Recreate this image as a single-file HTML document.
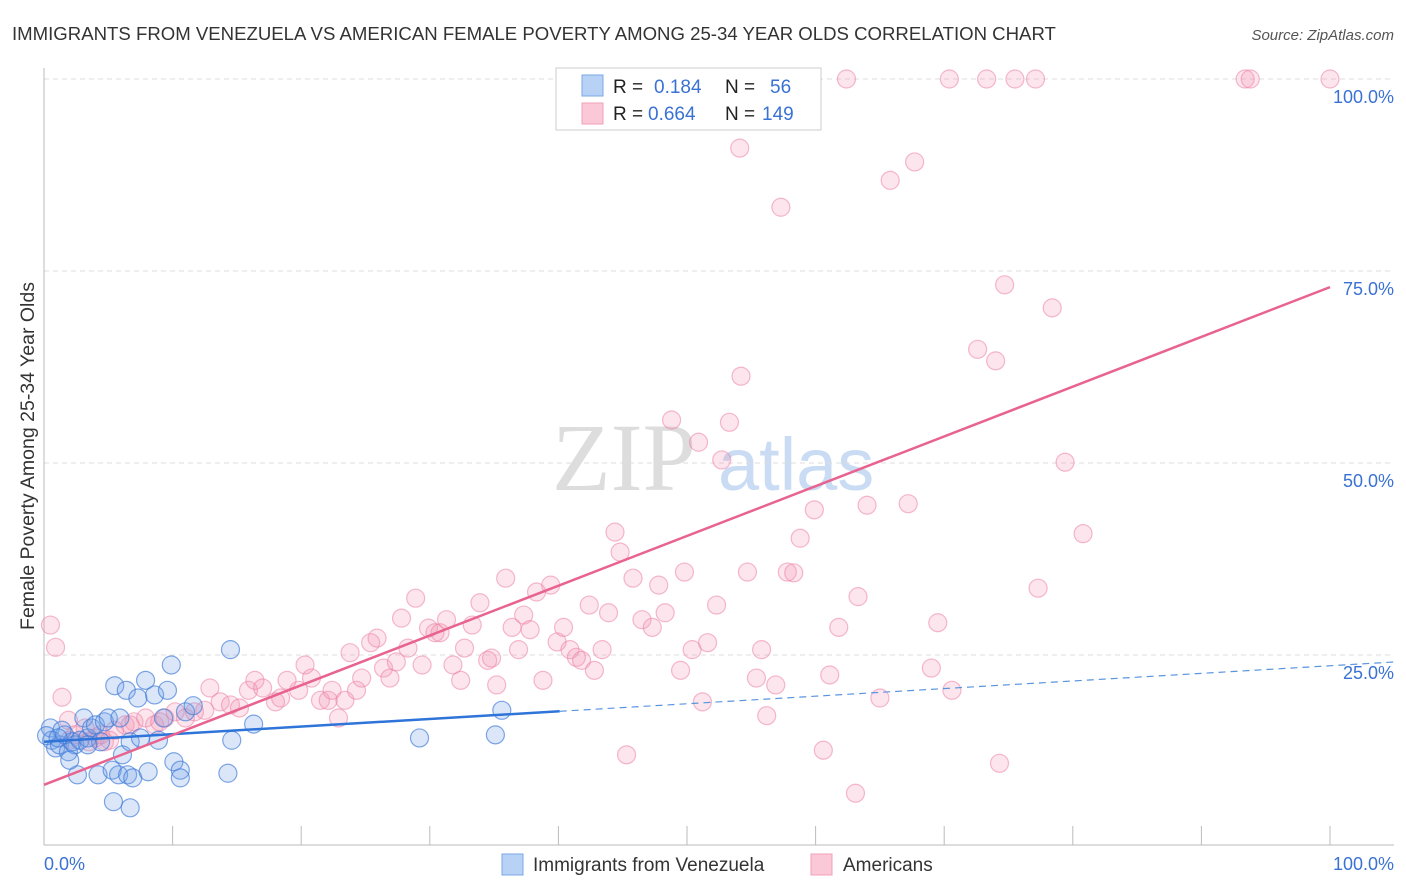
<!DOCTYPE html>
<html><head><meta charset="utf-8"><style>
body{margin:0;background:#fff;font-family:"Liberation Sans",sans-serif;}
#c{position:absolute;left:0;top:0}
</style></head><body>
<svg id="c" width="1406" height="892" xmlns="http://www.w3.org/2000/svg">
<text x="12" y="40" font-size="18.6" fill="#333">IMMIGRANTS FROM VENEZUELA VS AMERICAN FEMALE POVERTY AMONG 25-34 YEAR OLDS CORRELATION CHART</text>
<text x="1394" y="40" font-size="15" fill="#555" font-style="italic" text-anchor="end">Source: ZipAtlas.com</text>
<g>
<text x="552" y="490" font-size="96" fill="#ddd" font-family="Liberation Serif,serif">ZIP</text>
<text x="718" y="490" font-size="74" fill="#c9dcf3">atlas</text>
</g>
<g id="grid"></g>
<g id="axes"></g>
<g id="pts"></g>
<g id="lines"></g>
<g>
<rect x="556" y="68" width="265" height="62" fill="#fff" stroke="#ccc"/>
<rect x="582" y="75" width="21" height="21" fill="#b7d2f5" stroke="#7aa8e6"/>
<rect x="582" y="103" width="21" height="21" fill="#fbc8d7" stroke="#f0a0b8"/>
<text x="613" y="93" font-size="19" fill="#222">R = <tspan fill="#3a72d4" x="654">0.184</tspan><tspan x="725" fill="#222">N =</tspan><tspan x="770" fill="#3a72d4">56</tspan></text>
<text x="613" y="120" font-size="19" fill="#222">R = <tspan fill="#3a72d4" x="648">0.664</tspan><tspan x="725" fill="#222">N =</tspan><tspan x="762" fill="#3a72d4">149</tspan></text>
</g>
<g>
<rect x="502" y="854" width="21" height="21" fill="#b7d2f5" stroke="#7aa8e6"/>
<text x="533" y="871" font-size="19" fill="#333">Immigrants from Venezuela</text>
<rect x="811" y="854" width="21" height="21" fill="#fbc8d7" stroke="#f0a0b8"/>
<text x="843" y="871" font-size="19" fill="#333">Americans</text>
</g>
<text transform="translate(34,456) rotate(-90)" font-size="19.5" fill="#333" text-anchor="middle">Female Poverty Among 25-34 Year Olds</text>
<text x="44" y="870" font-size="18" fill="#3a72d4">0.0%</text>
<text x="1394" y="870" font-size="18" fill="#3a72d4" text-anchor="end">100.0%</text>
</svg>
<script>
const yTicks=[100,75,50,25];
const yTickLabels=["100.0%","75.0%","50.0%","25.0%"];
const blueX=[0.5,0.6,0.9,1.2,1.6,1.4,1.9,2.2,2.4,2.8,3.1,3.4,3.7,4.0,4.2,4.4,2.6,4.7,5.0,5.3,5.5,5.8,5.9,6.1,6.4,6.5,6.7,6.9,7.3,7.5,7.9,8.1,8.6,8.9,9.3,9.6,9.9,10.1,10.6,10.6,11.0,11.6,14.3,14.5,14.6,16.3,29.2,35.1,35.6,5.4,6.7,0.2,1.1,3.4,2.0];
const blueY=[15.5,13.9,12.9,13.3,14.6,15.2,12.4,13.7,13.3,13.9,16.8,14.2,15.5,15.9,9.4,13.7,9.4,16.3,16.8,10.0,21.0,9.4,16.8,12.0,20.4,9.4,13.7,9.0,19.4,14.2,21.7,9.8,19.8,13.9,16.8,20.4,23.7,11.1,10.0,9.0,17.6,18.4,9.6,25.7,13.9,16.0,14.2,14.6,17.8,5.9,5.1,14.5,14.2,13.3,11.3];
const pinkX=[0.5,0.9,1.4,1.9,2.4,3.2,4.0,4.7,5.5,6.3,7.0,7.9,8.6,9.4,10.2,11.0,11.7,12.5,12.9,13.7,14.5,15.2,15.9,16.4,17.0,18.0,18.4,18.9,19.8,20.3,20.8,21.5,22.1,22.4,22.9,23.4,23.8,24.3,24.7,25.4,25.9,26.4,26.9,27.4,27.8,28.3,28.9,29.4,29.9,30.4,30.8,31.3,31.8,32.4,32.7,33.3,33.9,34.5,34.8,35.2,35.9,36.4,36.9,37.3,37.8,38.3,38.8,39.4,39.9,40.4,40.9,41.4,41.8,42.4,42.8,43.4,43.9,44.4,44.8,45.8,46.5,47.3,47.8,48.3,48.8,49.5,49.8,50.4,50.9,51.6,52.3,52.7,53.3,54.1,54.2,54.7,55.4,55.8,56.2,56.9,57.3,57.8,58.3,58.8,59.9,60.6,61.1,61.8,62.4,63.1,63.3,64.0,65.0,65.8,67.2,67.7,69.0,69.5,70.4,70.6,72.6,73.3,74.0,74.3,74.7,75.5,77.1,77.3,78.4,79.4,80.8,93.4,93.8,100,47.1,45.3,51.2,4.4,6.7,9.0,5.1,3.5,2.0];
const pinkY=[28.9,26.0,19.5,16.5,14.6,15.5,14.2,13.7,15.2,15.9,16.3,16.8,15.9,16.8,17.6,16.8,17.6,17.8,20.7,18.9,18.5,18.1,20.4,21.7,20.7,18.9,19.4,21.7,20.4,23.7,22.0,19.1,19.1,20.4,16.8,19.1,25.3,20.4,22.0,26.6,27.2,23.3,22.0,24.1,29.8,25.9,32.4,23.7,28.5,27.9,27.9,29.6,23.7,21.7,25.9,28.9,31.8,24.3,24.6,21.1,35.0,28.6,25.7,30.2,28.3,33.2,21.7,34.1,26.7,28.6,25.7,24.7,24.3,31.5,23.0,25.7,30.5,41.0,38.4,35.0,29.6,28.6,34.1,30.5,55.6,23.0,35.8,25.7,52.7,26.6,31.5,50.4,55.3,91.0,61.3,35.8,22.0,25.7,17.1,21.1,83.3,35.8,35.7,40.2,43.9,12.6,22.4,28.6,100,7.0,32.6,44.5,19.4,86.8,44.7,89.2,23.3,29.2,100,20.4,64.8,100,63.3,10.9,73.2,100,100,33.7,70.2,50.1,40.8,100,100,100,97.7,12.0,18.9,14.6,15.9,16.3,13.9,13.7,13.9];
const blueTrend=[13.7,0.099];
const pinkTrend=[8.1,0.648];
const NS='http://www.w3.org/2000/svg';
const X=v=>44+v*12.86, Y=v=>847-v*7.68;
function mk(t,a,p){const e=document.createElementNS(NS,t);for(const k in a)e.setAttribute(k,a[k]);p.appendChild(e);return e;}
const grid=document.getElementById('grid'),axes=document.getElementById('axes'),pts=document.getElementById('pts'),lines=document.getElementById('lines');
yTicks.forEach((t,i)=>{
 const l=mk('line',{x1:44,x2:1394,y1:Y(t),y2:Y(t),stroke:'#ddd','stroke-dasharray':'5,4'},grid);
 
 
 const tx=mk('text',{x:1394,y:Y(t)+24,'font-size':18,fill:'#3a72d4','text-anchor':'end'},grid);
 tx.textContent=yTickLabels[i];
 
 
});
const xa=mk('line',{x1:44,x2:1394,y1:845,y2:845,stroke:'#bbb'},axes);


const ya=mk('line',{x1:44,x2:44,y1:68,y2:845,stroke:'#bbb'},axes);


for(let i=0;i<=10;i++){const t=mk('line',{x1:X(i*10),x2:X(i*10),y1:826,y2:845,stroke:'#bbb'},axes);
 
 }
pinkX.forEach((x,i)=>{const c=mk('circle',{cx:X(x),cy:Y(pinkY[i]),r:9,fill:'rgba(244,150,180,0.25)',stroke:'rgba(236,130,165,0.55)','stroke-width':1.2},pts);
 
 });
blueX.forEach((x,i)=>{const c=mk('circle',{cx:X(x),cy:Y(blueY[i]),r:9,fill:'rgba(110,160,230,0.25)',stroke:'rgba(60,120,215,0.65)','stroke-width':1.2},pts);
 
 });
const bl=mk('line',{x1:X(0),y1:Y(blueTrend[0]),x2:X(40.1),y2:Y(blueTrend[0]+blueTrend[1]*40.1),stroke:'#2f74d8','stroke-width':2.5},lines);


const bd=mk('line',{x1:X(40.1),y1:Y(blueTrend[0]+blueTrend[1]*40.1),x2:X(105),y2:Y(blueTrend[0]+blueTrend[1]*105),stroke:'#5b95e0','stroke-width':1.2,'stroke-dasharray':'7,5'},lines);


const pl=mk('line',{x1:X(0),y1:Y(pinkTrend[0]),x2:X(100),y2:Y(pinkTrend[0]+pinkTrend[1]*100),stroke:'#e8638f','stroke-width':2.5},lines);


</script>
</body></html>
